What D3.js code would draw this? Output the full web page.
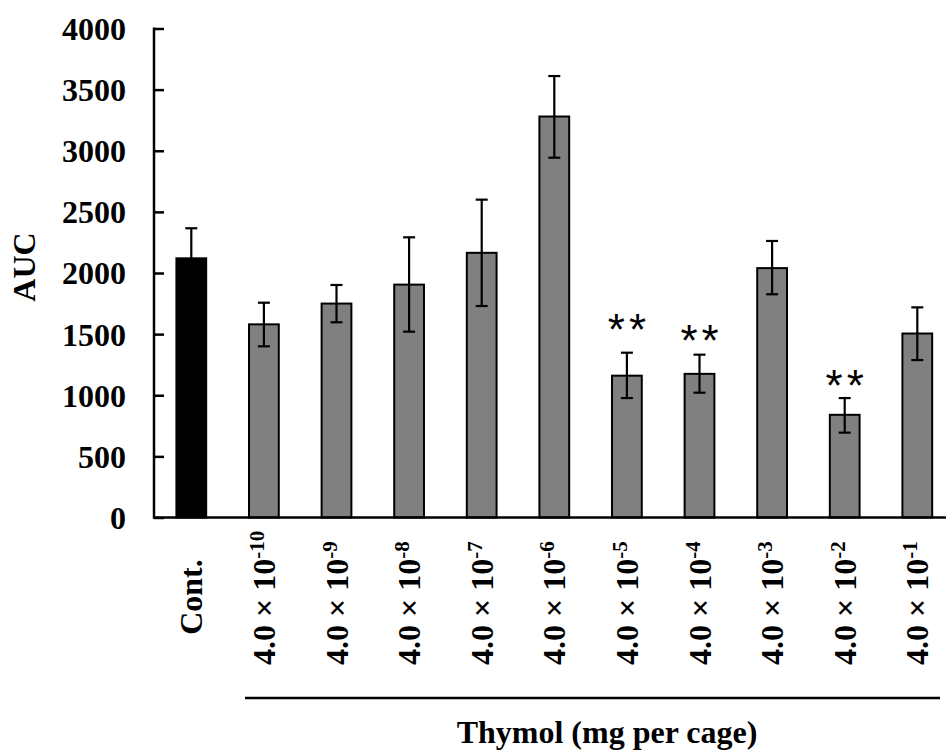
<!DOCTYPE html>
<html>
<head>
<meta charset="utf-8">
<script src="https://cdn.jsdelivr.net/npm/d3@7"></script>
<style>
  body { margin: 0; background: #fff; }
  svg { display: block; }
  text { font-family: "Liberation Serif", "Times New Roman", serif; font-weight: bold; fill: #000; }
</style>
</head>
<body>
<svg class="chart"></svg>
<script>
// categories (dose exponent, "Cont." = control)
const groups = ["Cont.", "-10", "-9", "-8", "-7", "-6", "-5", "-4", "-3", "-2", "-1"];
const means  = [2120, 1580, 1750, 1905, 2165, 3280, 1160, 1175, 2040, 840, 1505];
const errHi  = [2366, 1757, 1902, 2292, 2600, 3611, 1348, 1332, 2262, 977, 1719];
const errLo  = [1874, 1400, 1597, 1520, 1730, 2943, 977, 1021, 1826, 694, 1288];
// "**" markers: group and where they sit (AUC units)
const sigGroups = ["-5", "-4", "-2"];
const sigY = [1607, 1517, 1149];
const yTicks = [0, 500, 1000, 1500, 2000, 2500, 3000, 3500, 4000];

const width = 946, height = 753;
const svg = d3.select(".chart").attr("width", width).attr("height", height);

const x = d3.scaleBand()
  .domain(groups)
  .range([155, 953.6])
  .paddingInner(0.59)
  .paddingOuter(0.295);

const y = d3.scaleLinear().domain([0, 4000]).range([517.5, 28.5]);

const data = groups.map((g, i) => ({ g, mean: means[i], hi: errHi[i], lo: errLo[i] }));

// bars
svg.append("g")
  .selectAll("rect")
  .data(data)
  .join("rect")
  .attr("x", d => x(d.g))
  .attr("y", d => y(d.mean))
  .attr("width", x.bandwidth())
  .attr("height", d => y(0) - y(d.mean))
  .attr("fill", d => d.g === "Cont." ? "#000" : "#808080")
  .attr("stroke", "#000")
  .attr("stroke-width", 2);

// error bars
const eb = svg.append("g").attr("stroke", "#000").attr("stroke-width", 2.2);
const cx = d => x(d.g) + x.bandwidth() / 2;
eb.selectAll(".stem").data(data).join("line")
  .attr("x1", cx).attr("x2", cx)
  .attr("y1", d => y(d.hi)).attr("y2", d => y(d.lo));
eb.selectAll(".capHi").data(data).join("line")
  .attr("x1", d => cx(d) - 6).attr("x2", d => cx(d) + 6)
  .attr("y1", d => y(d.hi)).attr("y2", d => y(d.hi));
eb.selectAll(".capLo").data(data).join("line")
  .attr("x1", d => cx(d) - 6).attr("x2", d => cx(d) + 6)
  .attr("y1", d => y(d.lo)).attr("y2", d => y(d.lo));

// significance
svg.append("g")
  .selectAll("text")
  .data(sigGroups)
  .join("text")
  .attr("x", d => x(d) + x.bandwidth() / 2 + 2)
  .attr("y", (d, i) => y(sigY[i]))
  .attr("dy", "0.55em")
  .attr("text-anchor", "middle")
  .style("font-family", "'Liberation Sans', Arial, sans-serif")
  .style("font-weight", "normal")
  .style("font-size", "44px")
  .style("letter-spacing", "4px")
  .text("**");

// y axis
const yAxis = svg.append("g")
  .attr("transform", "translate(154,0)")
  .call(d3.axisRight(y).tickValues(yTicks).tickSize(10).tickSizeOuter(0).tickFormat(d3.format("d")));
yAxis.select(".domain").remove();
yAxis.selectAll(".tick line").attr("stroke", "#000").attr("stroke-width", 2.5);
yAxis.selectAll(".tick text")
  .attr("x", -28)
  .attr("text-anchor", "end")
  .attr("dy", "0.34em")
  .style("font-family", "'Liberation Serif', serif")
  .style("font-weight", "bold")
  .style("font-size", "32px");

// axis lines
svg.append("line").attr("x1", 154).attr("x2", 154).attr("y1", 27.5).attr("y2", 518.5)
  .attr("stroke", "#000").attr("stroke-width", 2.5);
svg.append("line").attr("x1", 153).attr("x2", width).attr("y1", 517.5).attr("y2", 517.5)
  .attr("stroke", "#000").attr("stroke-width", 2.5);

// category labels
const labels = svg.append("g").style("font-size", "32px");
labels.selectAll("text")
  .data(groups)
  .join("text")
  .attr("transform", d => {
    const px = x(d) + x.bandwidth() / 2 + 11;
    return d === "Cont." ? `translate(${px},597) rotate(-90)` : `translate(${px},665) rotate(-90)`;
  })
  .attr("text-anchor", d => d === "Cont." ? "middle" : "start")
  .each(function(d) {
    const t = d3.select(this);
    if (d === "Cont.") { t.text(d); return; }
    t.append("tspan").text("4.0 \u00d7 10");
    t.append("tspan").attr("dy", -11).style("font-size", "21px").text(d);
  });

// group bracket
svg.append("line").attr("x1", 245).attr("x2", 940).attr("y1", 698).attr("y2", 698)
  .attr("stroke", "#000").attr("stroke-width", 2.5);
svg.append("text")
  .attr("x", 607).attr("y", 743)
  .attr("text-anchor", "middle")
  .style("font-size", "32px")
  .text("Thymol (mg per cage)");

// y title
svg.append("text")
  .attr("transform", "translate(35,267) rotate(-90)")
  .attr("text-anchor", "middle")
  .style("font-size", "32px")
  .text("AUC");
</script>
</body>
</html>
